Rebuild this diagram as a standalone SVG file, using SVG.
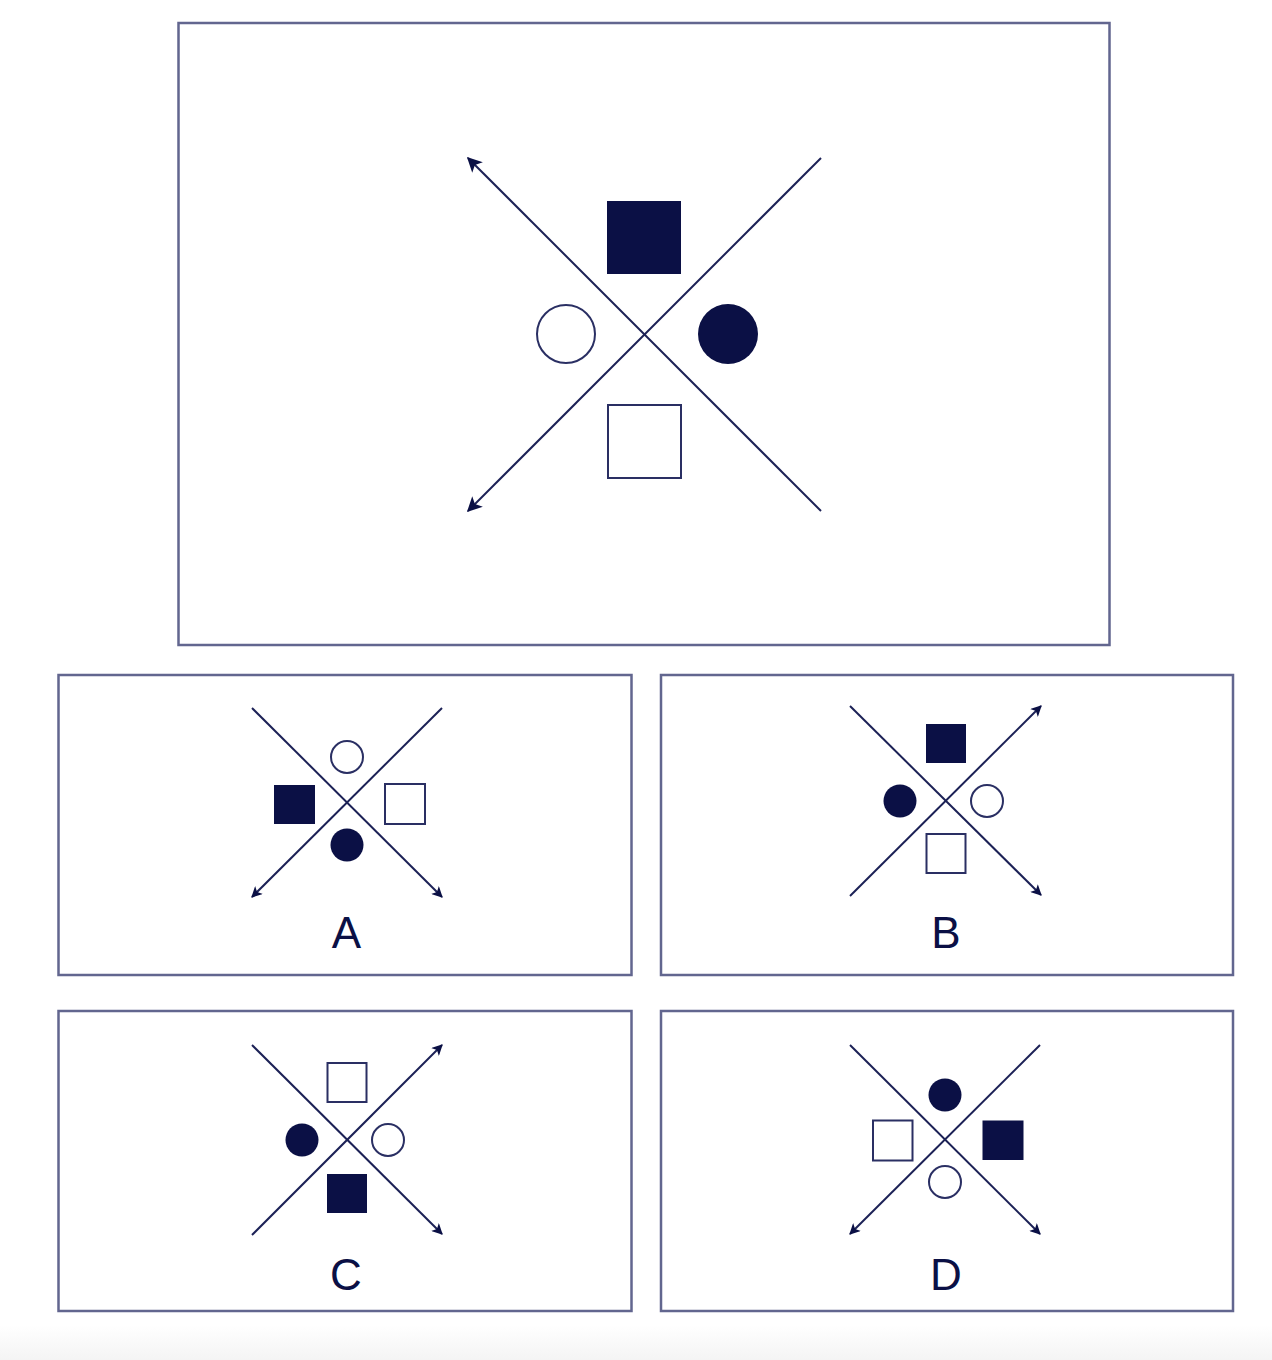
<svg xmlns="http://www.w3.org/2000/svg" width="1272" height="1360" viewBox="0 0 1272 1360">
<defs>
<linearGradient id="fade" x1="0" y1="0" x2="0" y2="1">
<stop offset="0" stop-color="#ffffff"/>
<stop offset="1" stop-color="#f4f4f4"/>
</linearGradient>
<marker id="arrBig" viewBox="0 0 10 10" refX="9" refY="5" markerUnits="userSpaceOnUse" markerWidth="17" markerHeight="15" orient="auto">
<path d="M0,0 L10,5 L0,10 L2.5,5 Z" fill="#0b1045"/>
</marker>
<marker id="arrSm" viewBox="0 0 10 10" refX="9" refY="5" markerUnits="userSpaceOnUse" markerWidth="12" markerHeight="11" orient="auto">
<path d="M0,0 L10,5 L0,10 L2.5,5 Z" fill="#0b1045"/>
</marker>
</defs>
<style>
.frame{fill:#ffffff;stroke:#62668f;stroke-width:2.5}
.ln{stroke:#1c2156;stroke-width:2;fill:none}
.fill{fill:#0b1045;stroke:none}
.hol{fill:#ffffff;stroke:#2a2f63;stroke-width:2}
.lbl{font-family:"Liberation Sans",Arial,sans-serif;font-size:44px;fill:#0b1045;text-anchor:middle}
</style>
<rect x="0" y="0" width="1272" height="1360" fill="#ffffff"/>
<rect x="0" y="1325" width="1272" height="35" fill="url(#fade)"/>

<g id="frames">
<rect id="frame-top" class="frame" x="178.5" y="23" width="931" height="622"/>
<rect id="frame-A" class="frame" x="58.5" y="675" width="573" height="300"/>
<rect id="frame-B" class="frame" x="661" y="675" width="572" height="300"/>
<rect id="frame-C" class="frame" x="58.5" y="1011" width="573" height="300"/>
<rect id="frame-D" class="frame" x="661" y="1011" width="572" height="300"/>
</g>

<g id="connectors">
<line class="ln" x1="821" y1="511" x2="468" y2="158" marker-end="url(#arrBig)"/>
<line class="ln" x1="821" y1="158" x2="468" y2="511" marker-end="url(#arrBig)"/>

<line class="ln" x1="252" y1="708" x2="442" y2="897" marker-end="url(#arrSm)"/>
<line class="ln" x1="442" y1="708" x2="252" y2="897" marker-end="url(#arrSm)"/>

<line class="ln" x1="850" y1="706" x2="1041" y2="895" marker-end="url(#arrSm)"/>
<line class="ln" x1="850" y1="896" x2="1041" y2="706" marker-end="url(#arrSm)"/>

<line class="ln" x1="252" y1="1045" x2="442" y2="1234" marker-end="url(#arrSm)"/>
<line class="ln" x1="252" y1="1235" x2="442" y2="1045" marker-end="url(#arrSm)"/>

<line class="ln" x1="850" y1="1045" x2="1040" y2="1234" marker-end="url(#arrSm)"/>
<line class="ln" x1="1040" y1="1045" x2="850" y2="1234" marker-end="url(#arrSm)"/>
</g>

<g id="top-shapes">
<rect class="fill" x="607" y="201" width="74" height="73"/>
<circle class="hol" cx="566" cy="334" r="29"/>
<circle class="fill" cx="728" cy="334" r="30"/>
<rect class="hol" x="608" y="405" width="73" height="73"/>
</g>

<g id="option-A">
<circle class="hol" cx="347" cy="757" r="16"/>
<rect class="fill" x="274" y="785" width="41" height="39"/>
<rect class="hol" x="385" y="784" width="40" height="40"/>
<circle class="fill" cx="347" cy="845" r="16.5"/>
<text class="lbl" x="346.5" y="948">A</text>
</g>

<g id="option-B">
<rect class="fill" x="926" y="724" width="40" height="39"/>
<circle class="fill" cx="900" cy="801" r="16.5"/>
<circle class="hol" cx="987" cy="801" r="16"/>
<rect class="hol" x="926.5" y="834" width="39" height="39"/>
<text class="lbl" x="946" y="948">B</text>
</g>

<g id="option-C">
<rect class="hol" x="327.5" y="1063" width="39" height="39"/>
<circle class="fill" cx="302" cy="1140" r="16.5"/>
<circle class="hol" cx="388" cy="1140" r="16"/>
<rect class="fill" x="327" y="1174" width="40" height="39"/>
<text class="lbl" x="346" y="1290">C</text>
</g>

<g id="option-D">
<circle class="fill" cx="945" cy="1095" r="16.5"/>
<rect class="hol" x="873" y="1120.5" width="39.5" height="40"/>
<rect class="fill" x="982.5" y="1120.5" width="41" height="39.5"/>
<circle class="hol" cx="945" cy="1182" r="16"/>
<text class="lbl" x="946" y="1290">D</text>
</g>
</svg>
